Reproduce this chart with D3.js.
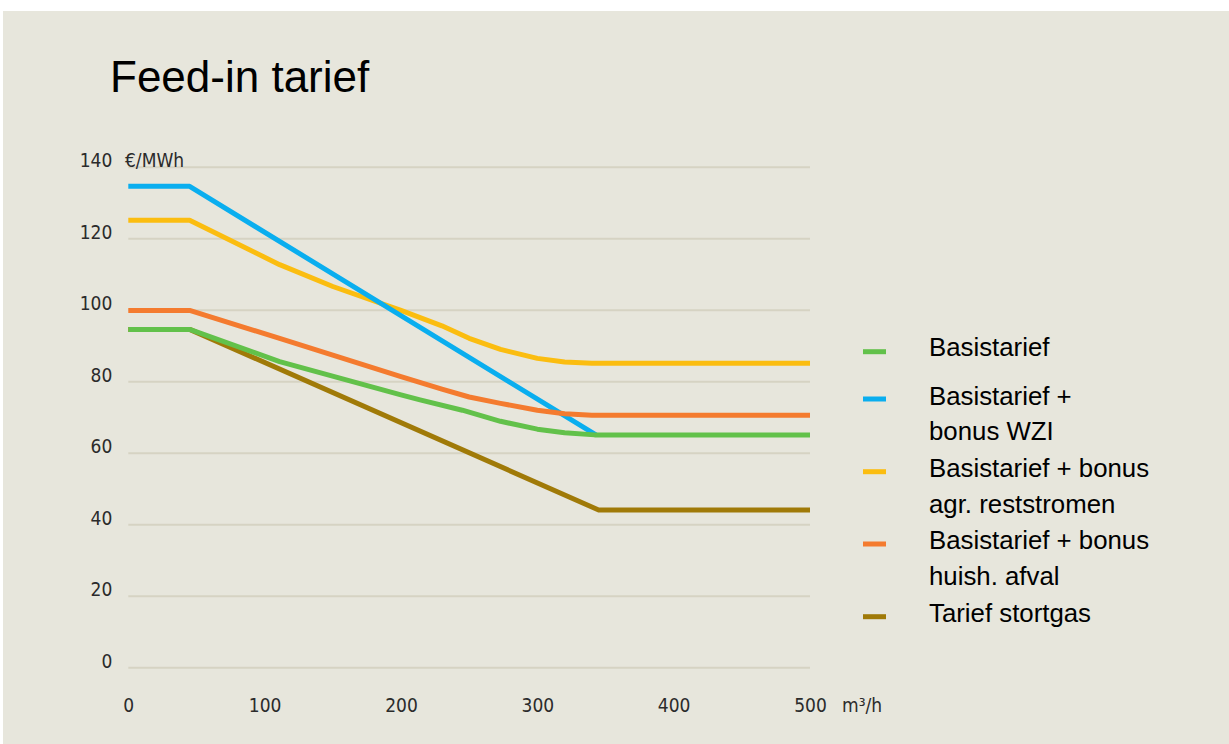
<!DOCTYPE html>
<html>
<head>
<meta charset="utf-8">
<script src="https://cdn.jsdelivr.net/npm/d3@7"></script>
<style>
  body { margin: 0; background: #fff; }
  svg { display: block; }
</style>
</head>
<body>
<svg id="chart"></svg>
<script>
// tariff curves (x in m3/h, y in euro/MWh)
const basistarief = [[0,94.5],[45,94.5],[111,85.5],[200,76.2],[214,74.8],[245,71.9],[273,68.8],[300,66.6],[320,65.6],[342,65],[500,65]]
const bonusWZI = [[0,134.5],[45,134.5],[343,65]]
const bonusAgr = [[0,125],[45,125],[111,112.6],[150,106.5],[200,99.8],[230,95.5],[250,92],[273,88.9],[300,86.4],[320,85.4],[340,85],[500,85]]
const bonusHuish = [[0,99.8],[45,99.8],[111,92],[200,81.3],[230,77.8],[250,75.6],[273,73.8],[300,71.9],[320,70.9],[340,70.5],[500,70.5]]
const stortgas = [[0,94.5],[45,94.5],[345,44],[500,44]]

const xTicks = [0,100,200,300,400,500]
const yTicks = [0,20,40,60,80,100,120,140]

const legendLabels = [
  ['Basistarief'],
  ['Basistarief +', 'bonus WZI'],
  ['Basistarief + bonus', 'agr. reststromen'],
  ['Basistarief + bonus', 'huish. afval'],
  ['Tarief stortgas']
]
const colors = ['#62c14a', '#0aaeef', '#fbbd10', '#f47b2f', '#a07a08']

const width = 1229
const height = 744

const svg = d3.select('#chart')
  .attr('width', width)
  .attr('height', height)

svg.append('rect')
  .attr('x', 3).attr('y', 11)
  .attr('width', width - 3).attr('height', height - 11)
  .attr('fill', '#e7e6dc')

svg.append('text')
  .attr('x', 110).attr('y', 92)
  .attr('font-family', 'Liberation Sans, Arial, sans-serif')
  .attr('font-size', 44)
  .attr('fill', '#000')
  .text('Feed-in tarief')

var x = d3.scaleLinear().domain([0, 500]).range([128.3, 810])
var y = d3.scaleLinear().domain([0, 140]).range([667.3, 166.7])

const tickFont = 'DejaVu Sans Condensed, sans-serif'
const tickSize = 19

// y axis + gridlines
var yAxis = svg.append('g')
  .attr('transform', 'translate(' + x(0) + ',0)')
  .call(d3.axisLeft(y).tickValues(yTicks).tickSize(-(x(500) - x(0))).tickPadding(16))
yAxis.select('.domain').remove()
yAxis.selectAll('.tick line').attr('stroke', '#d6d3c3').attr('stroke-width', 2)
yAxis.selectAll('.tick text')
  .attr('dy', 0)
  .attr('font-family', tickFont)
  .attr('font-size', tickSize)
  .attr('fill', '#2b2b2b')

svg.append('text')
  .attr('x', 125).attr('y', y(140))
  .attr('font-family', tickFont)
  .attr('font-size', tickSize)
  .attr('fill', '#2b2b2b')
  .text('€/MWh')

// x axis labels
var xAxis = svg.append('g')
  .attr('transform', 'translate(0,' + y(0) + ')')
  .call(d3.axisBottom(x).tickValues(xTicks).tickSize(0))
xAxis.select('.domain').remove()
xAxis.selectAll('.tick text')
  .attr('y', 44.5)
  .attr('dy', 0)
  .attr('font-family', tickFont)
  .attr('font-size', tickSize)
  .attr('fill', '#2b2b2b')

svg.append('text')
  .attr('x', 842).attr('y', y(0) + 44.5)
  .attr('font-family', tickFont)
  .attr('font-size', tickSize)
  .attr('fill', '#2b2b2b')
  .text('m³/h')

// lines
var line = d3.line()
  .x(function(d) { return x(d[0]) })
  .y(function(d) { return y(d[1]) })

var series = [basistarief, bonusWZI, bonusAgr, bonusHuish, stortgas]
var drawOrder = [4, 2, 1, 3, 0]

drawOrder.forEach(function(i) {
  svg.append('path')
    .datum(series[i])
    .attr('d', line)
    .attr('fill', 'none')
    .attr('stroke', colors[i])
    .attr('stroke-width', 5)
    .attr('stroke-linejoin', 'round')
})

// legend
const legendSwatchY = [351.7, 399, 471.7, 544, 616.7]
const legendBaselines = [[356], [405, 440], [477, 513], [549, 585], [622]]

var legend = svg.append('g')
legendLabels.forEach(function(lines, i) {
  legend.append('line')
    .attr('x1', 863).attr('x2', 886)
    .attr('y1', legendSwatchY[i]).attr('y2', legendSwatchY[i])
    .attr('stroke', colors[i])
    .attr('stroke-width', 5)
  lines.forEach(function(t, j) {
    legend.append('text')
      .attr('x', 929)
      .attr('y', legendBaselines[i][j])
      .attr('font-family', 'Liberation Sans, Arial, sans-serif')
      .attr('font-size', 25.8)
      .attr('fill', '#000')
      .text(t)
  })
})
</script>
</body>
</html>
